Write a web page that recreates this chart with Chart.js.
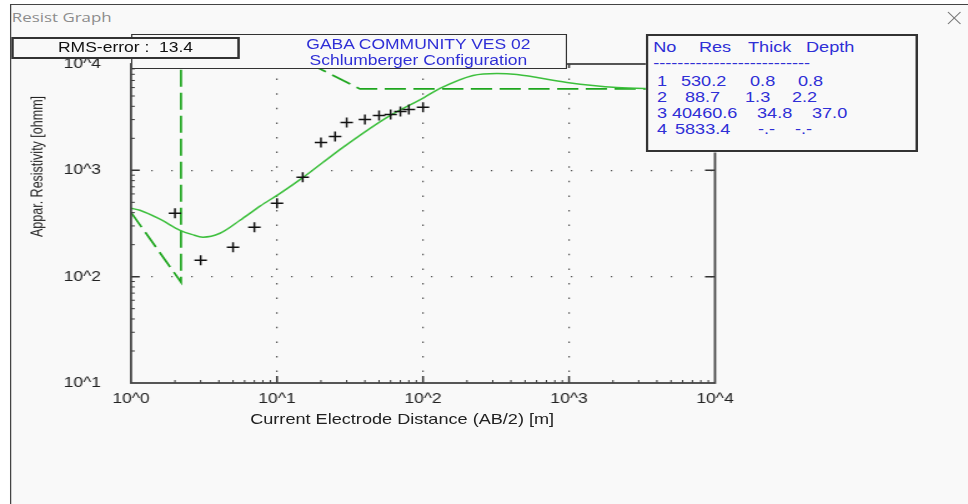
<!DOCTYPE html>
<html>
<head>
<meta charset="utf-8">
<title>Resist Graph</title>
<script src="https://cdn.jsdelivr.net/npm/chart.js@4.4.1/dist/chart.umd.min.js"></script>
<style>
body { margin: 0; background: #fff; width: 968px; height: 504px; overflow: hidden; font-family: "Liberation Sans", Arial, sans-serif; }
/* the original screenshot is stretched sideways, so everything sits in a squeezed box */
#wrap { position: absolute; left: 0; top: 0; width: 775px; height: 504px; transform: scaleX(1.249); transform-origin: 0 0; }
#win { position: absolute; left: 8px; top: 4px; width: 780px; height: 510px; border-left: 1px solid #444; border-top: 1px solid #444; background: #f9f9f9; }
#cap { position: absolute; left: 9.5px; top: 8px; font: 13.5px "Open Sans", sans-serif; color: #8c8c8c; }
#myChart { position: absolute; left: 0; top: 0; }
.box { position: absolute; box-sizing: border-box; border: 2px solid #333; background: #f9f9f9; }
.t { position: absolute; white-space: pre; line-height: 16px; }
.blue { color: #2f2fd6; }
</style>
</head>
<body>
<div id="wrap">
  <div id="win"></div>
  <div id="cap">Resist Graph</div>
  <svg style="position:absolute;left:758px;top:11px" width="14" height="14">
    <line x1="1" y1="1" x2="11" y2="13" stroke="#777" stroke-width="1"/>
    <line x1="11" y1="1" x2="1" y2="13" stroke="#777" stroke-width="1"/>
  </svg>
  <canvas id="myChart" width="775" height="504"></canvas>

  <div class="t" style="left:-40px;top:159px;width:140px;text-align:center;font-size:12.5px;color:#222;transform:rotate(-90deg);">Appar. Resistivity [ohmm]</div>
  <div class="t" style="left:172px;top:411px;width:300px;text-align:center;font-size:14.5px;color:#222;">Current Electrode Distance (AB/2) [m]</div>

  <div class="box" style="left:105px;top:34px;width:349px;height:35px;border-width:1.5px;"></div>
  <div class="t blue" style="left:185px;top:36px;width:300px;text-align:center;font-size:14px;">GABA COMMUNITY VES 02</div>
  <div class="t blue" style="left:185px;top:52px;width:300px;text-align:center;font-size:14px;">Schlumberger Configuration</div>

  <div class="box" style="left:9px;top:37px;width:183px;height:22px;"></div>
  <div class="t" style="left:9px;top:39px;width:183px;text-align:center;font-size:14px;color:#111;">RMS-error :  13.4</div>

  <div class="box" id="tbl" style="left:517px;top:34px;width:218px;height:118px;"></div>
</div>

<script>
'use strict';

// ---- data ----
// observed sounding points (+)
const obsAB2 = [2, 3, 5, 7, 10, 15, 20, 25, 30, 40, 50, 60, 70, 80, 100];
const obsRho = [395, 143, 189, 292, 490, 859, 1830, 2080, 2820, 3010, 3280, 3350, 3580, 3740, 3910];
// model curve (solid green)
const modelAB2 = [1, 1.15, 1.58, 2.17, 2.6, 3.11, 4.07, 5.58, 7.65, 10.5, 15.1, 28.3, 56.7, 101.6, 130.7, 220, 321, 440, 968, 2130, 3420, 10000];
const modelRho = [440, 421, 347, 273, 250, 235, 256, 339, 460, 608, 859, 1645, 3150, 4840, 5890, 7800, 8150, 7960, 6700, 6010, 5890, 5840];
// layered model (dashed green), as drawn
const layerDepth = [1, 2.2, 2.2, 37.0, 10000];
const layerRes = [403, 88.7, 40460.6, 5833.4, 5833.4];
// axes
const xTicks = [1, 10, 100, 1000, 10000];
const yTicks = [10, 100, 1000, 10000];
// layer table
const tblNo = ['1', '2', '3', '4'];
const tblRes = ['530.2', '88.7', '40460.6', '5833.4'];
const tblThick = ['0.8', '1.3', '34.8', '-.-'];
const tblDepth = ['0.8', '2.2', '37.0', '-.-'];

////////////////////////////////////////////////////
// table text
function txt(s, x, y) {
    const d = document.createElement('div');
    d.className = 't blue';
    d.style.cssText = 'left:' + x + 'px;top:' + (y - 8) + 'px;font-size:14.5px;';
    d.textContent = s;
    document.getElementById('wrap').appendChild(d);
}
txt('No', 523, 47);
txt('Res', 559.6, 47);
txt('Thick', 598.9, 47);
txt('Depth', 645.3, 47);
txt('-'.repeat(26), 523, 62.5);
const resX = [545.2, 548.4, 538.0, 540.4];
const thickX = [600.5, 596.5, 606.1, 606.9];
const depthX = [638.9, 634.1, 650.1, 636.5];
const rowY = [81, 97, 113, 129];
for (let i = 0; i < tblNo.length; i++) {
    txt(tblNo[i], 526, rowY[i]);
    txt(tblRes[i], resX[i], rowY[i]);
    txt(tblThick[i], thickX[i], rowY[i]);
    txt(tblDepth[i], depthX[i], rowY[i]);
}

////////////////////////////////////////////////////
// frame + inward ticks, like the old graph control
const frameTicks = {
    id: 'frameTicks',
    afterDatasetsDraw(chart) {
        const ctx = chart.ctx;
        const a = chart.chartArea;
        const x = chart.scales.x, y = chart.scales.y;
        ctx.save();
        ctx.strokeStyle = '#333';
        ctx.lineWidth = 1;
        ctx.beginPath();
        // minor ticks bottom / left
        for (let k = 0; k < 4; k++) {
            for (let m = 2; m < 10; m++) {
                const px = x.getPixelForValue(m * Math.pow(10, k));
                ctx.moveTo(px, a.bottom); ctx.lineTo(px, a.bottom - 3);
            }
        }
        for (let k = 1; k < 4; k++) {
            for (let m = 2; m < 10; m++) {
                const py = y.getPixelForValue(m * Math.pow(10, k));
                ctx.moveTo(a.left, py); ctx.lineTo(a.left + 3, py);
            }
        }
        ctx.stroke();
        ctx.lineWidth = 1.5;
        ctx.beginPath();
        [10, 100, 1000].forEach(v => {
            const px = x.getPixelForValue(v);
            ctx.moveTo(px, a.bottom); ctx.lineTo(px, a.bottom - 7);
            ctx.moveTo(px, a.top); ctx.lineTo(px, a.top + 4);
        });
        [100, 1000].forEach(v => {
            const py = y.getPixelForValue(v);
            ctx.moveTo(a.left, py); ctx.lineTo(a.left + 7, py);
            ctx.moveTo(a.right, py); ctx.lineTo(a.right - 8, py);
        });
        ctx.stroke();
        ctx.strokeStyle = '#444';
        ctx.lineWidth = 1.8;
        ctx.strokeRect(a.left, a.top, a.right - a.left, a.bottom - a.top);
        ctx.restore();
    }
};

function pts(xs, ys) {
    return xs.map((v, i) => ({x: v, y: ys[i]}));
}
function edgeColor(c) {
    const s = c.scale;
    if (!c.tick || c.tick.value === s.min || c.tick.value === s.max) return 'rgba(0,0,0,0)';
    return '#555';
}
const tickFont = {family: '"Liberation Sans", Arial, sans-serif', size: 14};

const W = 775, H = 504;
const PL = 131 / 1.249, PR = 715 / 1.249, PT = 64, PB = 383;

let ctx = document.getElementById('myChart').getContext('2d');
let myChart = new Chart(ctx, {
    type: 'scatter',
    data: {
        datasets: [
            {
                label: 'observed',
                data: pts(obsAB2, obsRho),
                showLine: false,
                pointStyle: 'cross',
                pointRadius: 5,
                borderColor: '#111',
                borderWidth: 1.5
            },
            {
                label: 'model',
                data: pts(modelAB2, modelRho),
                showLine: true,
                borderColor: '#3cbf3c',
                borderWidth: 1.5,
                pointRadius: 0,
                cubicInterpolationMode: 'monotone'
            },
            {
                label: 'layers',
                data: pts(layerDepth, layerRes),
                showLine: true,
                borderColor: '#1fa61f',
                borderWidth: 1.7,
                borderDash: [17, 6],
                pointRadius: 0
            }
        ]
    },
    options: {
        responsive: false,
        animation: false,
        layout: {padding: {left: 0, top: PT, right: W - PR, bottom: 0}},
        plugins: {legend: {display: false}, tooltip: {enabled: false}},
        scales: {
            x: {
                type: 'logarithmic',
                min: 1, max: 10000,
                afterBuildTicks: s => { s.ticks = xTicks.map(v => ({value: v})); },
                afterFit: s => { s.height = H - PB; },
                ticks: {
                    autoSkip: false, maxRotation: 0, padding: 8,
                    color: '#222', font: tickFont,
                    callback: v => '10^' + Math.round(Math.log10(v))
                },
                grid: {color: edgeColor, lineWidth: 1.2, drawTicks: false},
                border: {display: false, dash: [1.5, 13.1]}
            },
            y: {
                type: 'logarithmic',
                min: 10, max: 10000,
                afterBuildTicks: s => { s.ticks = yTicks.map(v => ({value: v})); },
                afterFit: s => { s.width = PL; },
                ticks: {
                    autoSkip: false, padding: 24,
                    color: '#222', font: tickFont,
                    callback: v => '10^' + Math.round(Math.log10(v))
                },
                grid: {color: edgeColor, lineWidth: 1.2, drawTicks: false},
                border: {display: false, dash: [1.2, 14.8]}
            }
        }
    },
    plugins: [frameTicks]
});
</script>
</body>
</html>
